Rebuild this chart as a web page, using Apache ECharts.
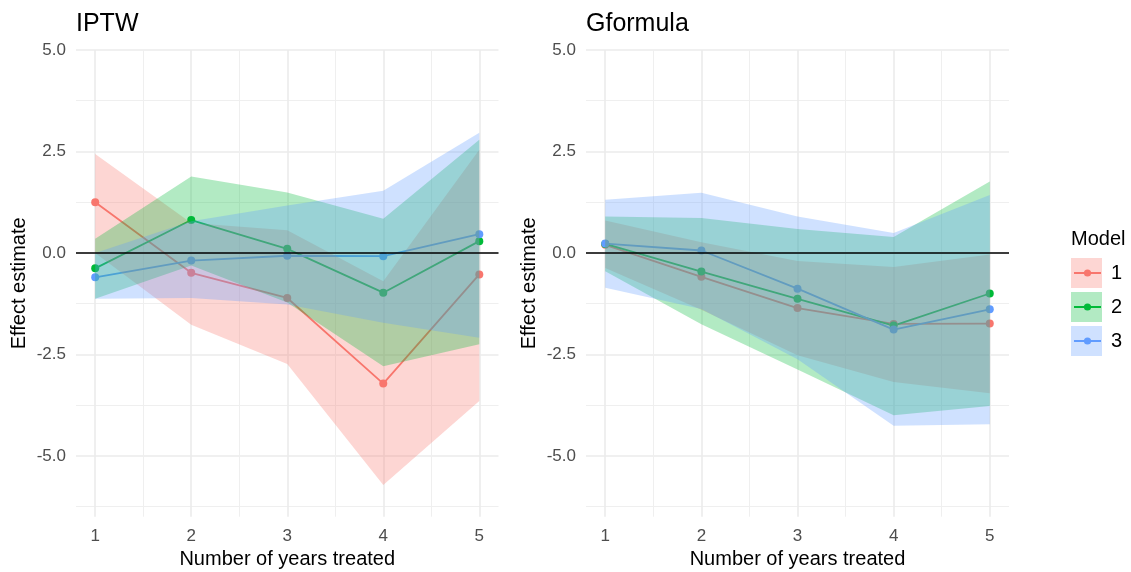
<!DOCTYPE html>
<html><head><meta charset="utf-8">
<script src="https://cdn.jsdelivr.net/npm/echarts@6/dist/echarts.min.js"></script>
<style>html,body{margin:0;padding:0;background:#fff}#c{width:1131px;height:572px}</style>
</head><body><div id="c"></div>
<script>
// ---- data ----
const years = [1, 2, 3, 4, 5];
const models = ['1', '2', '3'];
const panelTitles = ['IPTW', 'Gformula'];
const yTicks = [-5, -2.5, 0, 2.5, 5];
const yMinorTicks = [-6.25, -3.75, -1.25, 1.25, 3.75];
const xMinorTicks = [1.5, 2.5, 3.5, 4.5];

// IPTW
const iptwM1Est   = [1.25, -0.49, -1.11, -3.22, -0.53];
const iptwM1Lower = [0.00, -1.77, -2.74, -5.72, -3.65];
const iptwM1Upper = [2.44, 0.74, 0.56, -0.70, 2.54];
const iptwM2Est   = [-0.38, 0.81, 0.10, -0.98, 0.29];
const iptwM2Lower = [-1.13, -0.31, -1.22, -2.79, -2.25];
const iptwM2Upper = [0.35, 1.88, 1.49, 0.84, 2.79];
const iptwM3Est   = [-0.60, -0.19, -0.07, -0.08, 0.46];
const iptwM3Lower = [-1.13, -1.11, -1.27, -1.72, -2.09];
const iptwM3Upper = [0.00, 0.78, 1.17, 1.53, 2.96];

// Gformula
const gfM1Est   = [0.20, -0.59, -1.36, -1.75, -1.74];
const gfM1Lower = [-0.37, -1.40, -2.52, -3.18, -3.46];
const gfM1Upper = [0.80, 0.26, -0.20, -0.35, -0.04];
const gfM2Est   = [0.22, -0.46, -1.13, -1.79, -1.00];
const gfM2Lower = [-0.45, -1.76, -2.87, -4.00, -3.77];
const gfM2Upper = [0.90, 0.86, 0.59, 0.39, 1.76];
const gfM3Est   = [0.23, 0.06, -0.88, -1.89, -1.39];
const gfM3Lower = [-0.86, -1.38, -2.62, -4.26, -4.22];
const gfM3Upper = [1.31, 1.48, 0.90, 0.49, 1.43];

const colors = ['#F8766D', '#00BA38', '#619CFF'];
const FONT = 'Liberation Sans, Arial, sans-serif';

const panels = [
  { est: [iptwM1Est, iptwM2Est, iptwM3Est], lo: [iptwM1Lower, iptwM2Lower, iptwM3Lower], hi: [iptwM1Upper, iptwM2Upper, iptwM3Upper] },
  { est: [gfM1Est, gfM2Est, gfM3Est], lo: [gfM1Lower, gfM2Lower, gfM3Lower], hi: [gfM1Upper, gfM2Upper, gfM3Upper] }
];

const grids = [
  { left: 76, top: 50, width: 422.5, height: 466.7, outerBoundsMode: 'none', containLabel: false },
  { left: 586, top: 50, width: 423, height: 466.7, outerBoundsMode: 'none', containLabel: false }
];

const xAxes = [], yAxes = [], series = [];
grids.forEach((g, p) => {
  xAxes.push({
    type: 'value', gridIndex: p, min: 0.8, max: 5.2,
    name: 'Number of years treated', nameLocation: 'middle', nameGap: 33,
    nameTextStyle: { fontFamily: FONT, fontSize: 20, color: '#000' },
    axisLine: { show: false }, axisTick: { show: false, customValues: years },
    axisLabel: { customValues: years, fontFamily: FONT, fontSize: 17, color: '#4D4D4D', margin: 11 },
    splitLine: { show: true, lineStyle: { color: '#EBEBEB', width: 1.6 } }
  });
  xAxes.push({
    type: 'value', gridIndex: p, min: 0.8, max: 5.2, position: 'bottom',
    axisLine: { show: false }, axisTick: { show: false, customValues: xMinorTicks },
    axisLabel: { show: false, customValues: xMinorTicks },
    splitLine: { show: true, lineStyle: { color: '#EFEFEF', width: 1 } }
  });
  yAxes.push({
    type: 'value', gridIndex: p, min: -6.5, max: 5,
    name: 'Effect estimate', nameLocation: 'middle', nameGap: 47, nameRotate: 90,
    nameTextStyle: { fontFamily: FONT, fontSize: 20, color: '#000' },
    axisLine: { show: false }, axisTick: { show: false, customValues: yTicks },
    axisLabel: { customValues: yTicks, formatter: v => v.toFixed(1), fontFamily: FONT, fontSize: 17, color: '#4D4D4D', margin: 10 },
    splitLine: { show: true, lineStyle: { color: '#EBEBEB', width: 1.6 } }
  });
  yAxes.push({
    type: 'value', gridIndex: p, min: -6.5, max: 5, position: 'left',
    axisLine: { show: false }, axisTick: { show: false, customValues: yMinorTicks },
    axisLabel: { show: false, customValues: yMinorTicks },
    splitLine: { show: true, lineStyle: { color: '#EFEFEF', width: 1 } }
  });
});

panels.forEach((pd, p) => {
  const xi = p * 2, yi = p * 2;
  models.forEach((m, k) => {
    const s = {
      type: 'line', name: m, xAxisIndex: xi, yAxisIndex: yi,
      data: years.map((x, i) => [x, pd.est[k][i]]),
      symbol: 'circle', symbolSize: 8, showSymbol: true,
      lineStyle: { color: colors[k], width: 1.8 },
      itemStyle: { color: colors[k] },
      z: 2, silent: true
    };
    if (k === 2) {
      s.markLine = {
        silent: true, symbol: 'none', z: 10, animation: false,
        label: { show: false },
        lineStyle: { color: '#000', width: 1.6, type: 'solid' },
        data: [{ yAxis: 0 }]
      };
    }
    series.push(s);
  });
  models.forEach((m, k) => {
    const col = colors[k];
    series.push({
      type: 'custom', name: 'band-' + p + '-' + m, xAxisIndex: xi, yAxisIndex: yi,
      dimensions: ['x', 'lo', 'hi'],
      encode: { x: 0, y: [1, 2] },
      data: years.map((x, i) => [x, pd.lo[k][i], pd.hi[k][i]]),
      z: 3, silent: true,
      renderItem: (params, api) => {
        if (params.dataIndexInside !== 0) return;
        const n = params.dataInsideLength;
        const top = [], bot = [];
        for (let i = 0; i < n; i++) {
          top.push(api.coord([api.value(0, i), api.value(2, i)]));
          bot.push(api.coord([api.value(0, i), api.value(1, i)]));
        }
        return { type: 'polygon', shape: { points: top.concat(bot.reverse()) }, style: { fill: col, opacity: 0.3 } };
      }
    });
  });
});

const chart = echarts.init(document.getElementById('c'), null, { renderer: 'canvas' });
chart.setOption({
  animation: false,
  backgroundColor: '#fff',
  title: [
    { text: panelTitles[0], left: 76, top: 12, padding: 0, textStyle: { fontFamily: FONT, fontSize: 25, fontWeight: 'normal', color: '#000' } },
    { text: panelTitles[1], left: 586, top: 12, padding: 0, textStyle: { fontFamily: FONT, fontSize: 25, fontWeight: 'normal', color: '#000' } },
    { text: 'Model', left: 1071, top: 229, padding: 0, textStyle: { fontFamily: FONT, fontSize: 20, fontWeight: 'normal', color: '#000' } }
  ],
  grid: grids,
  xAxis: xAxes,
  yAxis: yAxes,
  legend: {
    data: models, orient: 'vertical', left: 1073, top: 263, padding: 0,
    itemWidth: 27, itemHeight: 9, itemGap: 14,
    textStyle: { fontFamily: FONT, fontSize: 20, lineHeight: 20, color: '#000', padding: [0, 0, 0, 5] },
    selectedMode: false
  },
  graphic: models.map((m, k) => ({
    type: 'rect', left: 1071, top: 258 + k * 34, z: 0,
    shape: { width: 31, height: 30 },
    style: { fill: colors[k], opacity: 0.3 }
  })),
  series: series
});
</script>
</body></html>
